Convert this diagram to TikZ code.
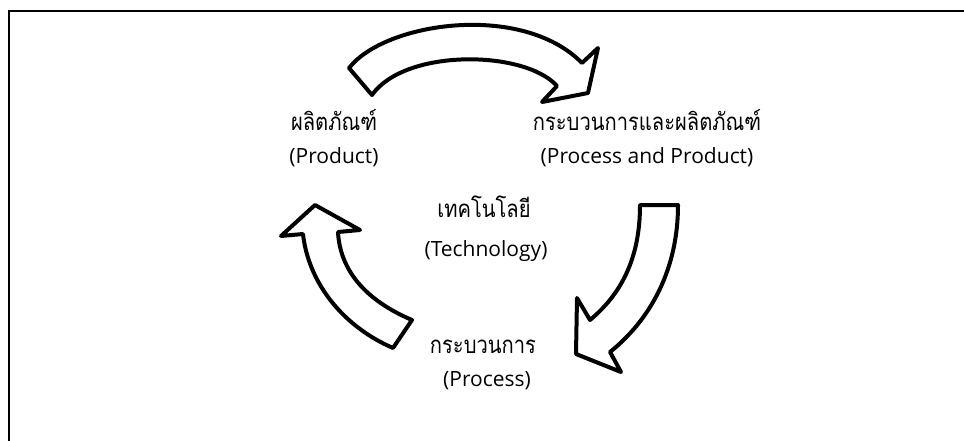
\documentclass[tikz,border=0pt]{standalone}
\usepackage{fontspec}
\setmainfont{Open Sans}
\newfontfamily\thaifont[Script=Thai, FakeStretch=0.84]{Loma}
\begin{document}
\begin{tikzpicture}[x=1pt,y=-1pt,
  thaitext/.style={font=\thaifont\fontsize{24}{28}\selectfont, inner sep=0pt, anchor=base},
  lattext/.style={font=\fontsize{21}{24}\selectfont, inner sep=0pt, anchor=base},
  blockarrow/.style={draw=black, line width=4pt, fill=white, line join=round},
  frameline/.style={draw=black, line width=2pt}]
\useasboundingbox (0,0) rectangle (964,441);
% partial frame
\coordinate (ftl) at (9,11);
\coordinate (ftr) at (964,11);
\coordinate (fbl) at (9,441);
\draw[frameline] (ftr) -- (ftl) -- (fbl);

% top arrow: Product -> Process and Product
\draw[blockarrow] (349,68) .. controls (385,22) and (522,2) .. (582,63)
  -- (598,48) -- (588,93) -- (542,102) -- (557,86)
  .. controls (525,50) and (405,48) .. (372,95) -- cycle;

% right arrow: Process and Product -> Process
\draw[blockarrow] (640,205) -- (678,205)
  .. controls (678,270) and (650,320) .. (610,352)
  -- (621,372) -- (576,354) -- (577,298) -- (590,320)
  .. controls (620,295) and (640,260) .. (640,205) -- cycle;

% left arrow: Process -> Product
\draw[blockarrow] (412,320) .. controls (365,300) and (340,270) .. (338,232)
  -- (360,230) -- (315,205) -- (281,236) -- (303,234)
  .. controls (308,280) and (340,325) .. (393,348) -- cycle;

% labels
\node[thaitext] (prodTh) at (334,130.5) {ผลิตภัณฑ์};
\node[lattext]  (prodEn) at (334,163.5) {(Product)};
\node[thaitext] (ppTh) at (647,130.5) {กระบวนการและผลิตภัณฑ์};
\node[lattext]  (ppEn) at (647,163.5) {(Process and Product)};
\node[thaitext] (techTh) at (484,217.5) {เทคโนโลยี};
\node[lattext]  (techEn) at (486,256.5) {(Technology)};
\node[thaitext] (procTh) at (483,353) {กระบวนการ};
\node[lattext]  (procEn) at (487,386.5) {(Process)};
\end{tikzpicture}
\end{document}
